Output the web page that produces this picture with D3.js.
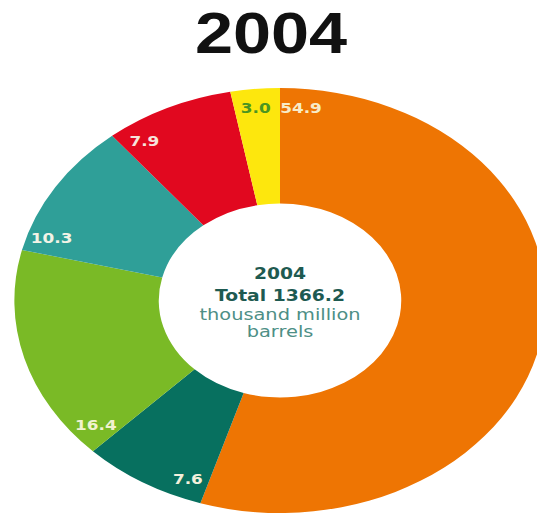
<!DOCTYPE html>
<html>
<head>
<meta charset="utf-8">
<script src="https://cdn.jsdelivr.net/npm/d3@7"></script>
<style>
  body { margin: 0; background: #fff; }
</style>
</head>
<body>
<div id="chart"></div>
<script>
// slices, clockwise from 12 o'clock
var values = [54.9, 7.6, 16.4, 10.3, 7.9, 3.0];
var labels = ['54.9', '7.6', '16.4', '10.3', '7.9', '3.0'];
var colors = ['#ee7503', '#07705f', '#7aba26', '#2f9f98', '#e1081f', '#fde70d'];
var label_colors = ['#f7ecc9', '#f3f0dc', '#f1f2cf', '#f2f3e6', '#f6e3dc', '#4b9521'];
var center_lines = ['2004', 'Total 1366.2', 'thousand million', 'barrels'];

var chart_width = 537;
var chart_height = 517;
var cx = 280, cy = 300.5;
var outer_r = 212.5, inner_r = 97;
var stretch = 1.25; // the original picture is squeezed/wide

var svg = d3.select('#chart')
    .append('svg')
    .attr('width', chart_width)
    .attr('height', chart_height);

// Titulo
svg.append('text')
    .attr('transform', 'translate(271,53) scale(1.2,1)')
    .attr('text-anchor', 'middle')
    .attr('font-family', 'Liberation Sans, Arial, sans-serif')
    .attr('font-weight', 'bold')
    .attr('font-size', 57)
    .attr('fill', '#111')
    .text('2004');

var g = svg.append('g')
    .attr('transform', 'translate(' + cx + ',' + cy + ') scale(' + stretch + ',1)');

var pie = d3.pie().sort(null).value(function (d) { return d; });
var arcs = pie(values);

var arc = d3.arc()
    .innerRadius(inner_r)
    .outerRadius(outer_r);

g.selectAll('path')
    .data(arcs)
    .enter()
    .append('path')
    .attr('d', arc)
    .attr('fill', function (d, i) { return colors[i]; });

// rotulos perto do inicio de cada fatia
var label_r = 193;
var offset = 5 * Math.PI / 180;
g.selectAll('text.lbl')
    .data(arcs)
    .enter()
    .append('text')
    .attr('class', 'lbl')
    .attr('x', function (d) { return label_r * Math.sin(d.startAngle + offset); })
    .attr('y', function (d) { return -label_r * Math.cos(d.startAngle + offset); })
    .attr('dy', '0.36em')
    .attr('text-anchor', 'middle')
    .attr('font-family', 'DejaVu Sans, sans-serif')
    .attr('font-weight', 'bold')
    .attr('font-size', 13.5)
    .attr('fill', function (d, i) { return label_colors[i]; })
    .text(function (d, i) { return labels[i]; });

// texto central
var line_y = [279, 301, 320, 337];
g.selectAll('text.center')
    .data(center_lines)
    .enter()
    .append('text')
    .attr('class', 'center')
    .attr('x', 0)
    .attr('y', function (d, i) { return line_y[i] - cy; })
    .attr('text-anchor', 'middle')
    .attr('font-family', 'DejaVu Sans, sans-serif')
    .attr('font-weight', function (d, i) { return i < 2 ? 'bold' : 'normal'; })
    .attr('font-size', function (d, i) { return i < 2 ? 15 : 15.5; })
    .attr('fill', function (d, i) { return i < 2 ? '#1e5a51' : '#4e8f86'; })
    .text(function (d) { return d; });
</script>
</body>
</html>
